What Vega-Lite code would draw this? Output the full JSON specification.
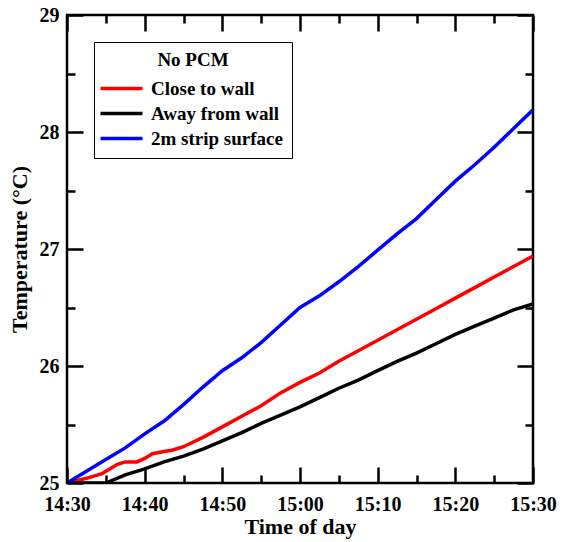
{
  "$schema": "https://vega.github.io/schema/vega-lite/v6.json",
  "width": 466,
  "height": 468,
  "autosize": {"type": "none"},
  "padding": {"left": 67, "top": 15, "right": 32, "bottom": 59},
  "background": "white",
  "config": {
    "view": {"stroke": "black", "strokeWidth": 2.5},
    "font": "Liberation Serif",
    "axis": {
      "domain": false,
      "ticks": false,
      "tickSize": 0,
      "zindex": 1,
      "labelFont": "Liberation Serif",
      "labelFontWeight": "bold",
      "labelFontSize": 20,
      "labelColor": "black",
      "labelFlush": false,
      "labelOverlap": false,
      "titleFont": "Liberation Serif",
      "titleFontWeight": "bold",
      "titleFontSize": 22,
      "titleColor": "black",
      "grid": true,
      "gridColor": "black",
      "gridOpacity": 1,
      "gridWidth": 2.5
    }
  },
  "data": {
    "values": [
      {"minute": 0, "series": "Close to wall", "temp": 25.00},
      {"minute": 2.5, "series": "Close to wall", "temp": 25.04},
      {"minute": 4.5, "series": "Close to wall", "temp": 25.08},
      {"minute": 5.5, "series": "Close to wall", "temp": 25.12},
      {"minute": 6.5, "series": "Close to wall", "temp": 25.16},
      {"minute": 7.5, "series": "Close to wall", "temp": 25.18},
      {"minute": 9, "series": "Close to wall", "temp": 25.18},
      {"minute": 10, "series": "Close to wall", "temp": 25.21},
      {"minute": 11, "series": "Close to wall", "temp": 25.25},
      {"minute": 12.5, "series": "Close to wall", "temp": 25.27},
      {"minute": 13.5, "series": "Close to wall", "temp": 25.28},
      {"minute": 15, "series": "Close to wall", "temp": 25.31},
      {"minute": 17.5, "series": "Close to wall", "temp": 25.39},
      {"minute": 20, "series": "Close to wall", "temp": 25.48},
      {"minute": 22.5, "series": "Close to wall", "temp": 25.57},
      {"minute": 25, "series": "Close to wall", "temp": 25.66},
      {"minute": 27.5, "series": "Close to wall", "temp": 25.77},
      {"minute": 30, "series": "Close to wall", "temp": 25.86},
      {"minute": 32.5, "series": "Close to wall", "temp": 25.94},
      {"minute": 35, "series": "Close to wall", "temp": 26.04},
      {"minute": 37.5, "series": "Close to wall", "temp": 26.13},
      {"minute": 40, "series": "Close to wall", "temp": 26.22},
      {"minute": 42.5, "series": "Close to wall", "temp": 26.31},
      {"minute": 45, "series": "Close to wall", "temp": 26.40},
      {"minute": 47.5, "series": "Close to wall", "temp": 26.49},
      {"minute": 50, "series": "Close to wall", "temp": 26.58},
      {"minute": 52.5, "series": "Close to wall", "temp": 26.67},
      {"minute": 55, "series": "Close to wall", "temp": 26.76},
      {"minute": 57.5, "series": "Close to wall", "temp": 26.85},
      {"minute": 60, "series": "Close to wall", "temp": 26.94},
      {"minute": 0, "series": "Away from wall", "temp": 25.00},
      {"minute": 2.5, "series": "Away from wall", "temp": 25.00},
      {"minute": 5, "series": "Away from wall", "temp": 25.00},
      {"minute": 7.5, "series": "Away from wall", "temp": 25.07},
      {"minute": 10, "series": "Away from wall", "temp": 25.12},
      {"minute": 12.5, "series": "Away from wall", "temp": 25.18},
      {"minute": 15, "series": "Away from wall", "temp": 25.23},
      {"minute": 17.5, "series": "Away from wall", "temp": 25.29},
      {"minute": 20, "series": "Away from wall", "temp": 25.36},
      {"minute": 22.5, "series": "Away from wall", "temp": 25.43},
      {"minute": 25, "series": "Away from wall", "temp": 25.51},
      {"minute": 27.5, "series": "Away from wall", "temp": 25.58},
      {"minute": 30, "series": "Away from wall", "temp": 25.65},
      {"minute": 32.5, "series": "Away from wall", "temp": 25.73},
      {"minute": 35, "series": "Away from wall", "temp": 25.81},
      {"minute": 37.5, "series": "Away from wall", "temp": 25.88},
      {"minute": 40, "series": "Away from wall", "temp": 25.96},
      {"minute": 42.5, "series": "Away from wall", "temp": 26.04},
      {"minute": 45, "series": "Away from wall", "temp": 26.11},
      {"minute": 47.5, "series": "Away from wall", "temp": 26.19},
      {"minute": 50, "series": "Away from wall", "temp": 26.27},
      {"minute": 52.5, "series": "Away from wall", "temp": 26.34},
      {"minute": 55, "series": "Away from wall", "temp": 26.41},
      {"minute": 57.5, "series": "Away from wall", "temp": 26.48},
      {"minute": 60, "series": "Away from wall", "temp": 26.53},
      {"minute": 0, "series": "2m strip surface", "temp": 25.00},
      {"minute": 2.5, "series": "2m strip surface", "temp": 25.10},
      {"minute": 5, "series": "2m strip surface", "temp": 25.20},
      {"minute": 7.5, "series": "2m strip surface", "temp": 25.30},
      {"minute": 10, "series": "2m strip surface", "temp": 25.42},
      {"minute": 12.5, "series": "2m strip surface", "temp": 25.53},
      {"minute": 15, "series": "2m strip surface", "temp": 25.67},
      {"minute": 17.5, "series": "2m strip surface", "temp": 25.82},
      {"minute": 20, "series": "2m strip surface", "temp": 25.96},
      {"minute": 22.5, "series": "2m strip surface", "temp": 26.07},
      {"minute": 25, "series": "2m strip surface", "temp": 26.20},
      {"minute": 27.5, "series": "2m strip surface", "temp": 26.35},
      {"minute": 30, "series": "2m strip surface", "temp": 26.50},
      {"minute": 32.5, "series": "2m strip surface", "temp": 26.60},
      {"minute": 35, "series": "2m strip surface", "temp": 26.72},
      {"minute": 37.5, "series": "2m strip surface", "temp": 26.85},
      {"minute": 40, "series": "2m strip surface", "temp": 26.99},
      {"minute": 42.5, "series": "2m strip surface", "temp": 27.13},
      {"minute": 45, "series": "2m strip surface", "temp": 27.26},
      {"minute": 47.5, "series": "2m strip surface", "temp": 27.42},
      {"minute": 50, "series": "2m strip surface", "temp": 27.58},
      {"minute": 52.5, "series": "2m strip surface", "temp": 27.72},
      {"minute": 55, "series": "2m strip surface", "temp": 27.87},
      {"minute": 57.5, "series": "2m strip surface", "temp": 28.03},
      {"minute": 60, "series": "2m strip surface", "temp": 28.19}
    ]
  },
  "resolve": {"axis": {"x": "independent", "y": "independent"}},
  "layer": [
    {
      "mark": {"type": "line", "clip": true},
      "encoding": {
        "x": {
          "field": "minute", "type": "quantitative",
          "scale": {"domain": [0, 60], "nice": false, "zero": false},
          "axis": {"orient": "bottom", "title": "Time of day", "values": [0, 10, 20, 30, 40, 50, 60], "labelExpr": "datum.value < 30 ? '14:' + (datum.value + 30) : (datum.value == 30 ? '15:00' : '15:' + (datum.value - 30))", "labelPadding": 11, "titlePadding": 2, "zindex": 1, "grid": true, "gridColor": "black", "gridWidth": 2.5, "gridOpacity": 1, "gridDash": [16, 436]}
        },
        "y": {
          "field": "temp", "type": "quantitative",
          "scale": {"domain": [25, 29], "nice": false, "zero": false},
          "axis": {"orient": "left", "title": "Temperature (°C)", "values": [25, 26, 27, 28, 29], "format": "d", "labelPadding": 8, "titlePadding": 8, "zindex": 1, "grid": true, "gridColor": "black", "gridWidth": 2.5, "gridOpacity": 1, "gridDash": [16, 434]}
        },
        "color": {
          "field": "series", "type": "nominal",
          "scale": {"domain": ["Close to wall", "Away from wall", "2m strip surface"], "range": ["#ff0000", "#000000", "#0000ff"]},
          "legend": {
            "title": "No PCM", "orient": "none", "legendX": 27, "legendY": 27,
            "padding": 9, "strokeColor": "black", "fillColor": "white",
            "titleFont": "Liberation Serif", "titleFontWeight": "bold", "titleFontSize": 19, "titleColor": "black",
            "titleAnchor": "middle", "titleAlign": "center", "titlePadding": 6,
            "labelFont": "Liberation Serif", "labelFontWeight": "bold", "labelFontSize": 19, "labelColor": "black",
            "symbolType": "M-2,0H2", "symbolSize": 441, "symbolStrokeWidth": 3.5, "symbolOffset": 6, "labelOffset": 17, "rowPadding": 2
          }
        },
        "strokeWidth": {
          "field": "series", "type": "nominal",
          "scale": {"domain": ["Close to wall", "Away from wall", "2m strip surface"], "range": [3.5, 3.5, 2.5]},
          "legend": null
        }
      }
    },
    {
      "mark": {"type": "point", "opacity": 0},
      "encoding": {
        "x": {"field": "minute", "type": "quantitative", "axis": {"orient": "bottom", "title": null, "labels": false, "values": [5, 15, 25, 35, 45, 55], "zindex": 1, "grid": true, "gridColor": "black", "gridWidth": 2.5, "gridOpacity": 1, "gridDash": [8, 452]}},
        "y": {"field": "temp", "type": "quantitative", "axis": {"orient": "left", "title": null, "labels": false, "values": [25.5, 26.5, 27.5, 28.5], "zindex": 1, "grid": true, "gridColor": "black", "gridWidth": 2.5, "gridOpacity": 1, "gridDash": [8, 450]}}
      }
    }
  ]
}
